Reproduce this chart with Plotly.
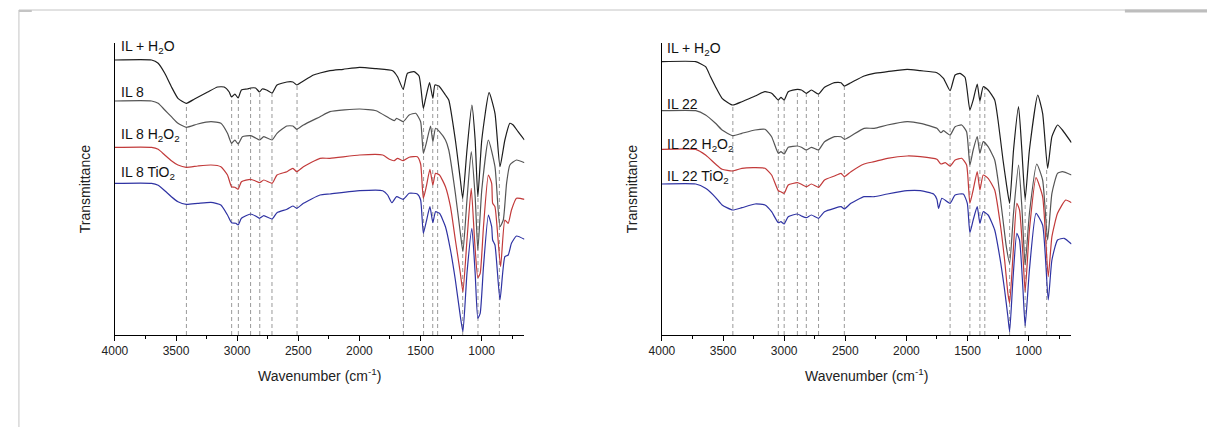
import plotly.graph_objects as go

W, H = 1207, 427

# ---------------- Left panel (IL 8) ----------------
L1_NAME = "IL + H<sub>2</sub>O"
L1_WN = [4000, 3700, 3646, 3592, 3538, 3484, 3416, 3349, 3241, 3160,
         3106, 3065, 3046, 3019, 2992, 2965, 2917, 2890, 2849, 2817,
         2795, 2760, 2714, 2674, 2593, 2544, 2512, 2471, 2376, 2322,
         2241, 2133, 1998, 1863, 1728, 1688, 1642, 1607, 1553, 1512,
         1477, 1458, 1426, 1399, 1382, 1350, 1296, 1269, 1215, 1174,
         1155, 1120, 1080, 1053, 1031, 999, 939, 891, 850, 810,
         769, 742, 702, 650]
L1_T = [275, 275, 271.7, 261.7, 248.3, 236.7, 231.7, 236, 243, 248,
        248, 243, 238, 241, 237, 245, 246, 247, 247, 243,
        246, 245, 242, 250, 253, 253, 250, 253, 260, 262,
        264.3, 265.7, 267.7, 266.3, 264.3, 258.3, 245.7, 261.7, 263.3, 259,
        226.7, 236.7, 252.3, 236.7, 250, 249, 240, 235, 195, 155,
        136.7, 185, 230, 195, 138.3, 195, 242.3, 221.7, 168.3, 195,
        211.7, 210, 203.3, 195]

L2_NAME = "IL 8"
L2_WN = [4000, 3700, 3646, 3592, 3538, 3484, 3416, 3322, 3214, 3133,
         3079, 3046, 3019, 2992, 2957, 2890, 2849, 2817, 2782, 2714,
         2674, 2593, 2544, 2512, 2458, 2322, 2241, 1998, 1863, 1755,
         1715, 1696, 1642, 1593, 1539, 1499, 1477, 1453, 1418, 1399,
         1377, 1345, 1296, 1269, 1215, 1174, 1153, 1120, 1085, 1053,
         1031, 999, 945, 891, 850, 823, 796, 769, 715, 650]
L2_T = [234, 234, 231.7, 225, 218.3, 211.7, 207.7, 211, 213.3, 211.7,
        201.7, 191.7, 195, 191, 198.3, 199.3, 197, 195, 198.3, 195,
        201.7, 209, 209, 205.7, 210, 218.3, 223.3, 226, 224.3, 216.7,
        214.3, 216.7, 213.3, 220, 221.7, 213.3, 181.7, 191.7, 209, 193.3,
        206.7, 203.3, 195, 185, 141.7, 101.7, 83.3, 135, 183.3, 138.3,
        85, 145, 195, 168.3, 108.3, 115, 151.7, 170, 175, 172.3]

L3_NAME = "IL 8 H<sub>2</sub>O<sub>2</sub>"
L3_WN = [4000, 3700, 3646, 3592, 3538, 3484, 3416, 3322, 3214, 3133,
         3079, 3046, 3019, 2992, 2965, 2890, 2849, 2817, 2782, 2714,
         2674, 2593, 2544, 2512, 2458, 2322, 2241, 1998, 1809, 1755,
         1715, 1688, 1642, 1593, 1526, 1499, 1477, 1453, 1423, 1399,
         1377, 1345, 1296, 1255, 1215, 1174, 1153, 1120, 1085, 1058,
         1031, 1012, 985, 945, 918, 910, 891, 845, 810, 783,
         756, 715, 650]
L3_T = [187.7, 187.7, 185.7, 180, 174.3, 170, 167.7, 169, 170, 168.3,
        160, 148.3, 147.7, 145.7, 153.3, 155.7, 154, 152.3, 155, 151.7,
        160, 163.3, 166.7, 163.3, 168.3, 176.7, 176.7, 180, 180, 175.7,
        174.3, 176.7, 174.3, 177.7, 178.3, 171, 136.7, 148.3, 165.7, 150,
        161.7, 160, 148.3, 128.3, 95, 61.7, 43, 95, 146.7, 95,
        57.3, 61.7, 108.3, 160, 151.7, 131.7, 128.3, 68.3, 115, 111.7,
        125, 136.7, 135.7]

L4_NAME = "IL 8 TiO<sub>2</sub>"
L4_WN = [4000, 3700, 3646, 3592, 3538, 3484, 3416, 3322, 3214, 3133,
         3079, 3046, 3011, 2992, 2965, 2890, 2849, 2817, 2782, 2714,
         2674, 2593, 2544, 2512, 2458, 2322, 2241, 1998, 1809, 1769,
         1734, 1696, 1642, 1593, 1526, 1499, 1477, 1453, 1423, 1399,
         1377, 1345, 1296, 1255, 1215, 1174, 1153, 1120, 1080, 1053,
         1031, 1012, 985, 945, 918, 910, 891, 850, 810, 783,
         756, 715, 650]
L4_T = [151.7, 151.7, 149.7, 144.3, 138.3, 133.3, 130.7, 131.7, 132.7, 130,
        120, 112.3, 111.7, 110, 116.7, 121, 119, 116.7, 119.3, 116,
        122.3, 125.7, 129, 126.7, 131.7, 140, 141, 144.3, 144.3, 140,
        132.3, 138.3, 135.7, 141.7, 141, 135, 101.7, 113.3, 128.3, 112.3,
        123.3, 121.7, 108.3, 85, 55, 18.3, 3.3, 61.7, 106.7, 61.7,
        16.7, 21.7, 68.3, 120, 108.3, 95, 90, 35, 78.3, 80,
        91.7, 99, 95.7]

# ---------------- Right panel (IL 22) ----------------
R1_NAME = "IL + H<sub>2</sub>O"
R1_WN = [4000, 3724, 3643, 3603, 3562, 3508, 3421, 3346, 3238, 3157,
         3103, 3075, 3048, 3027, 3000, 2967, 2892, 2859, 2819, 2778,
         2719, 2670, 2589, 2535, 2508, 2454, 2346, 2264, 2156, 1994,
         1886, 1751, 1697, 1643, 1602, 1562, 1521, 1481, 1454, 1421,
         1399, 1372, 1332, 1278, 1251, 1210, 1183, 1156, 1124, 1083,
         1056, 1029, 994, 926, 886, 845, 810, 764, 724, 650]
R1_T = [273.3, 273.3, 268.3, 258.3, 248.3, 236.7, 230, 233.3, 239, 243.3,
        241.7, 238.3, 235, 237.7, 235, 243.3, 245.7, 245, 241.7, 245,
        241, 247.7, 252.3, 252.3, 249, 252.3, 259, 261.7, 263.3, 265.7,
        264.3, 262.3, 256.7, 244.3, 260, 261.7, 257.7, 225, 235, 251,
        234, 248.3, 245, 235, 215, 175, 151.7, 131.7, 185, 228.3,
        185, 135.7, 185, 240, 221.7, 166.7, 198.3, 210, 205, 192.3]

R2_NAME = "IL 22"
R2_WN = [4000, 3724, 3643, 3562, 3508, 3421, 3346, 3238, 3157, 3103,
         3048, 3027, 3000, 2967, 2892, 2859, 2819, 2778, 2719, 2670,
         2589, 2535, 2508, 2454, 2346, 2264, 2156, 1994, 1886, 1751,
         1718, 1697, 1643, 1602, 1548, 1508, 1481, 1454, 1421, 1399,
         1372, 1332, 1278, 1251, 1210, 1183, 1156, 1124, 1083, 1056,
         1029, 994, 934, 886, 845, 810, 764, 724, 650]
R2_T = [224.3, 224.3, 220, 211.7, 205, 199.3, 201.7, 205, 205.7, 198.3,
        181.7, 183.3, 181, 187.7, 189, 187.7, 185, 187.7, 185, 193.3,
        198.3, 198.3, 195.7, 199, 206.7, 206.7, 210, 213.3, 211.7, 206.7,
        202.3, 204.3, 200, 208.3, 210, 203.3, 170, 185, 198.3, 181.7,
        193.3, 188.3, 175, 155, 115, 88.3, 71.7, 121.7, 170, 128.3,
        70, 121.7, 171, 155, 95, 141.7, 161.7, 163.3, 160]

R3_NAME = "IL 22 H<sub>2</sub>O<sub>2</sub>"
R3_WN = [4000, 3724, 3643, 3562, 3508, 3421, 3346, 3238, 3157, 3103,
         3048, 3027, 3000, 2967, 2892, 2859, 2819, 2778, 2719, 2670,
         2589, 2535, 2508, 2454, 2346, 2264, 2156, 1994, 1886, 1751,
         1718, 1683, 1643, 1602, 1548, 1508, 1481, 1454, 1421, 1399,
         1372, 1332, 1278, 1237, 1197, 1170, 1156, 1129, 1097, 1075,
         1048, 1029, 994, 940, 886, 840, 810, 764, 697, 650]
R3_T = [185.7, 185.7, 180, 171, 165.7, 164, 166.7, 167.3, 166.7, 160,
        144.3, 143.3, 141.7, 150, 152.3, 150.7, 148.3, 151, 147.7, 155,
        159, 161.7, 158.3, 163.3, 171, 173.3, 176.7, 179, 178.3, 175.7,
        171, 172.3, 169, 175, 176.7, 170, 131.7, 145, 163.3, 145,
        160, 156.7, 145, 115, 75, 41.7, 31.7, 78.3, 131.7, 125,
        81.7, 43.3, 105, 157.3, 138.3, 58.3, 98.3, 121.7, 135, 132.3]

R4_NAME = "IL 22 TiO<sub>2</sub>"
R4_WN = [4000, 3724, 3643, 3562, 3508, 3421, 3346, 3238, 3157, 3103,
         3048, 3027, 3000, 2967, 2892, 2859, 2819, 2778, 2719, 2670,
         2589, 2535, 2508, 2454, 2346, 2264, 2156, 1994, 1886, 1778,
         1751, 1737, 1710, 1643, 1602, 1535, 1502, 1481, 1454, 1421,
         1399, 1372, 1332, 1278, 1237, 1197, 1170, 1156, 1129, 1097,
         1075, 1048, 1029, 994, 940, 886, 840, 810, 764, 710,
         650]
R4_T = [151, 151, 146.7, 137.7, 130, 125, 127.3, 131, 130, 123.3,
        112.3, 113.3, 111, 118.3, 121, 119, 117.3, 120, 116.7, 123.3,
        126.7, 128.3, 126, 131.7, 138.3, 138.3, 141, 144.3, 144.3, 141,
        135.7, 126.7, 136.7, 131.7, 140, 141, 131.7, 102.3, 115, 128.3,
        111.7, 123.3, 120, 105, 78.3, 45, 18.3, 3.3, 55, 101.7,
        95, 48.3, 9, 65, 121.7, 110, 35, 75, 95, 96.7,
        91]

# marker (dashed) lines: wavenumber and top of the dashed line
L_MARK_WN = [3415, 3045, 2990, 2890, 2815, 2715, 2510, 1640, 1475, 1400, 1360, 1155, 1030, 855]
L_MARK_TOP = [232, 238, 237, 247, 243, 242, 250, 246, 227, 237, 250, 137, 138, 168]
R_MARK_WN = [3420, 3048, 3000, 2892, 2819, 2719, 2508, 1643, 1481, 1399, 1359, 1156, 1029, 853]
R_MARK_TOP = [230, 235, 235, 246, 242, 241, 249, 244, 225, 234, 247, 132, 136, 167]

# label positions (wavenumber, transmittance)
L_LABEL_POS = [(3968, 288), (3968, 243), (3968, 200), (3968, 162)]
R_LABEL_POS = [(3973, 286), (3973, 231), (3973, 190), (3973, 158)]

COLORS = ["#1e1e1e", "#555555", "#c23a3a", "#2f33a3"]
X_RANGE = [4000, 650]
Y_RANGE = [0, 292]

FONT = "Liberation Sans, Arial, sans-serif"

fig = go.Figure()


def add_marks(wns, tops, xa, ya):
    xs, ys = [], []
    for w, t in zip(wns, tops):
        xs += [w, w, None]
        ys += [0, t, None]
    fig.add_trace(go.Scatter(x=xs, y=ys, mode="lines", xaxis=xa, yaxis=ya,
                             line=dict(color="#9a9a9a", width=1, dash="4px,3px"),
                             hoverinfo="skip", showlegend=False))


add_marks(L_MARK_WN, L_MARK_TOP, "x", "y")
add_marks(R_MARK_WN, R_MARK_TOP, "x2", "y2")

left = [(L1_NAME, L1_WN, L1_T), (L2_NAME, L2_WN, L2_T), (L3_NAME, L3_WN, L3_T), (L4_NAME, L4_WN, L4_T)]
right = [(R1_NAME, R1_WN, R1_T), (R2_NAME, R2_WN, R2_T), (R3_NAME, R3_WN, R3_T), (R4_NAME, R4_WN, R4_T)]

for series, xa, ya, pos in [(left, "x", "y", L_LABEL_POS), (right, "x2", "y2", R_LABEL_POS)]:
    for (name, wn, t), col, (lx, ly) in zip(series, COLORS, pos):
        fig.add_trace(go.Scatter(x=wn, y=t, mode="lines", name=name, xaxis=xa, yaxis=ya,
                                 line=dict(color=col, width=1.2, shape="spline", smoothing=0.5),
                                 showlegend=False))
        fig.add_annotation(x=lx, y=ly, xref=xa, yref=ya, text=name, showarrow=False,
                           xanchor="left", yanchor="middle",
                           font=dict(family=FONT, size=14, color="#111111"))

yb = (H - 335) / H
yt = (H - 43) / H
xl = [103 / W, 517 / W]
xr = [656 / W, 1070 / W]

axis_common = dict(range=X_RANGE, showline=True, linecolor="#000000", linewidth=1,
                   ticks="outside", ticklen=5, tickwidth=1, tickcolor="#000000",
                   tick0=0, dtick=500, showgrid=False, zeroline=False,
                   tickfont=dict(family=FONT, size=12, color="#222222"),
                   minor=dict(ticks="outside", ticklen=3, tick0=0, dtick=250,
                              tickcolor="#000000", showgrid=False))
yaxis_common = dict(range=Y_RANGE, showline=True, linecolor="#000000", linewidth=1,
                    showticklabels=False, ticks="", showgrid=False, zeroline=False)

fig.update_layout(
    width=W, height=H,
    margin=dict(l=0, r=0, t=0, b=0),
    paper_bgcolor="white", plot_bgcolor="white",
    xaxis=dict(domain=xl, anchor="y", **axis_common),
    yaxis=dict(domain=[yb, yt], anchor="x", **yaxis_common),
    xaxis2=dict(domain=xr, anchor="y2", **axis_common),
    yaxis2=dict(domain=[yb, yt], anchor="x2", **yaxis_common),
    showlegend=False,
    hovermode=False,
)

# axis titles
for cx in [(xl[0] + xl[1]) / 2, (xr[0] + xr[1]) / 2]:
    fig.add_annotation(x=cx, y=1 - 375 / H, xref="paper", yref="paper",
                       text="Wavenumber (cm<sup>-1</sup>)", showarrow=False,
                       xanchor="center", yanchor="middle",
                       font=dict(family=FONT, size=14, color="#222222"))
for px in [73, 626]:
    fig.add_annotation(x=px / W, y=(yb + yt) / 2, xref="paper", yref="paper",
                       text="Transmittance", textangle=-90, showarrow=False,
                       xanchor="center", yanchor="middle",
                       font=dict(family=FONT, size=14, color="#222222"))

# page frame lines
fig.add_shape(type="line", xref="paper", yref="paper", x0=6 / W, x1=1, y0=1 - 10 / H, y1=1 - 10 / H,
              line=dict(color="#c4c4c4", width=1))
fig.add_shape(type="line", xref="paper", yref="paper", x0=6 / W, x1=6 / W, y0=1 - 10 / H, y1=0,
              line=dict(color="#c4c4c4", width=1))
fig.add_shape(type="line", xref="paper", yref="paper", x0=1124 / W, x1=1, y0=1 - 11 / H, y1=1 - 11 / H,
              line=dict(color="#bdbdbd", width=3))
fig.add_shape(type="line", xref="paper", yref="paper", x0=6 / W, x1=19 / W, y0=1 - 11 / H, y1=1 - 11 / H,
              line=dict(color="#c4c4c4", width=2))

fig.write_html("out.html", config={"displayModeBar": False},
               post_script="document.body.style.margin='0';")
